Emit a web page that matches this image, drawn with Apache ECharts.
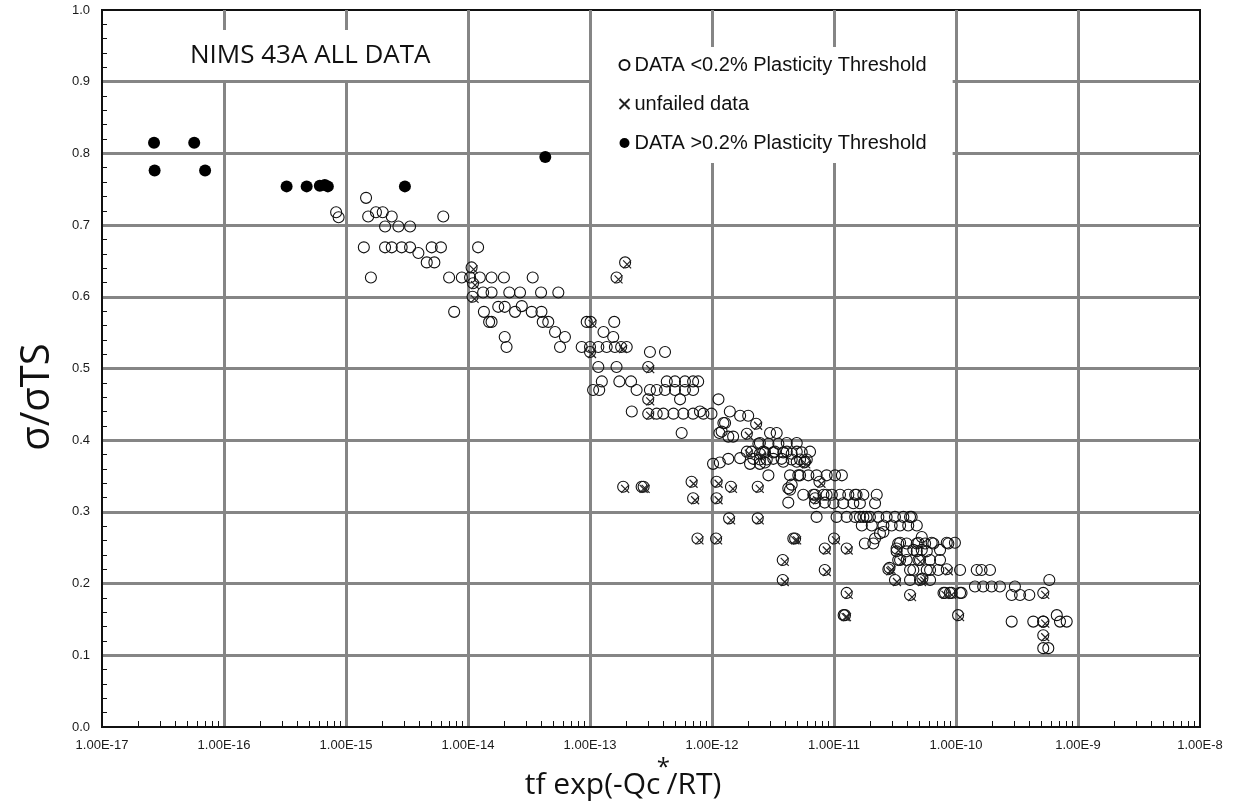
<!DOCTYPE html>
<html>
<head>
<meta charset="utf-8">
<title>NIMS 43A ALL DATA</title>
<script src="https://cdn.jsdelivr.net/npm/echarts@6/dist/echarts.min.js"></script>
<style>
    html, body { margin: 0; padding: 0; background: #fff; }
    #main { width: 1243px; height: 803px; }
</style>
</head>
<body>
<div id="main"></div>
<script>
    // [tf exp(-Qc*/RT), σ/σTS]
    var filledData = [
        [2.67e-17, 0.815], [2.7e-17, 0.776], [5.7e-17, 0.815], [7.0e-17, 0.776],
        [3.26e-16, 0.754], [4.76e-16, 0.754], [6.1e-16, 0.755], [6.7e-16, 0.756], [7.1e-16, 0.754],
        [3.04e-15, 0.754], [4.3e-14, 0.795]
    ];

    var openData = [
        [8.3e-16, 0.718], [8.7e-16, 0.711], [1.46e-15, 0.738], [1.4e-15, 0.669], [1.52e-15, 0.712],
        [1.6e-15, 0.627], [1.76e-15, 0.718], [2.0e-15, 0.718], [2.09e-15, 0.698], [2.09e-15, 0.669],
        [2.37e-15, 0.712], [2.37e-15, 0.669], [2.69e-15, 0.698], [2.86e-15, 0.669], [3.35e-15, 0.698],
        [3.35e-15, 0.669], [3.92e-15, 0.661], [4.59e-15, 0.648], [5.04e-15, 0.669], [5.3e-15, 0.648],
        [6.0e-15, 0.669], [6.27e-15, 0.712], [7.0e-15, 0.627], [7.7e-15, 0.579], [8.9e-15, 0.627],
        [1.04e-14, 0.627], [1.21e-14, 0.669], [1.25e-14, 0.627], [1.33e-14, 0.606], [1.35e-14, 0.579],
        [1.49e-14, 0.565], [1.56e-14, 0.627], [1.56e-14, 0.606], [1.56e-14, 0.565], [1.77e-14, 0.586],
        [1.97e-14, 0.627], [2.0e-14, 0.586], [2.0e-14, 0.544], [2.07e-14, 0.530], [2.18e-14, 0.606],
        [2.43e-14, 0.579], [2.67e-14, 0.606], [2.76e-14, 0.587], [3.33e-14, 0.579], [3.39e-14, 0.627],
        [3.97e-14, 0.606], [4.0e-14, 0.579], [4.1e-14, 0.565], [4.55e-14, 0.565], [5.17e-14, 0.551],
        [5.5e-14, 0.606], [5.68e-14, 0.530], [6.23e-14, 0.544], [8.55e-14, 0.530], [9.4e-14, 0.565],
        [1.0e-13, 0.530], [1.06e-13, 0.470], [1.17e-13, 0.530], [1.17e-13, 0.502], [1.19e-13, 0.470],
        [1.25e-13, 0.482], [1.29e-13, 0.551], [1.37e-13, 0.530], [1.55e-13, 0.544], [1.58e-13, 0.565],
        [1.6e-13, 0.530], [1.65e-13, 0.502], [1.74e-13, 0.482], [2.0e-13, 0.530], [2.17e-13, 0.482],
        [2.2e-13, 0.440], [2.41e-13, 0.470], [3.1e-13, 0.523], [3.1e-13, 0.470], [3.52e-13, 0.470],
        [3.52e-13, 0.437], [3.99e-13, 0.437], [4.12e-13, 0.523], [4.12e-13, 0.470], [4.26e-13, 0.482],
        [4.83e-13, 0.437], [4.97e-13, 0.482], [4.97e-13, 0.470], [5.47e-13, 0.457], [5.64e-13, 0.410],
        [5.82e-13, 0.437], [6.0e-13, 0.482], [6.0e-13, 0.470], [7.0e-13, 0.482], [7.0e-13, 0.470],
        [7.0e-13, 0.437], [7.7e-13, 0.482], [7.97e-13, 0.440], [8.5e-13, 0.437], [9.9e-13, 0.437],
        [1.02e-12, 0.367], [1.13e-12, 0.457], [1.15e-12, 0.410], [1.16e-12, 0.369], [1.2e-12, 0.412],
        [1.24e-12, 0.424], [1.28e-12, 0.424], [1.36e-12, 0.374], [1.36e-12, 0.405], [1.4e-12, 0.440],
        [1.49e-12, 0.405], [1.7e-12, 0.434], [1.7e-12, 0.375], [1.98e-12, 0.434], [2.05e-12, 0.367],
        [2.11e-12, 0.384], [2.18e-12, 0.374], [2.4e-12, 0.395], [2.47e-12, 0.396], [2.47e-12, 0.373],
        [2.47e-12, 0.367], [2.63e-12, 0.384], [2.72e-12, 0.369], [2.72e-12, 0.383], [2.81e-12, 0.373],
        [2.9e-12, 0.351], [2.9e-12, 0.395], [2.99e-12, 0.410], [3.18e-12, 0.374], [3.18e-12, 0.383],
        [3.28e-12, 0.384], [3.39e-12, 0.410], [3.5e-12, 0.395], [3.72e-12, 0.374], [3.84e-12, 0.383],
        [3.84e-12, 0.370], [4.1e-12, 0.396], [4.1e-12, 0.384], [4.22e-12, 0.313], [4.22e-12, 0.333],
        [4.36e-12, 0.351], [4.36e-12, 0.331], [4.5e-12, 0.381], [4.5e-12, 0.338], [4.5e-12, 0.373],
        [4.95e-12, 0.396], [4.95e-12, 0.384], [4.95e-12, 0.370], [5.1e-12, 0.351], [5.27e-12, 0.373],
        [5.27e-12, 0.351], [5.44e-12, 0.383], [5.6e-12, 0.324], [5.79e-12, 0.370], [5.98e-12, 0.373],
        [6.16e-12, 0.351], [6.36e-12, 0.384], [6.77e-12, 0.324], [6.98e-12, 0.324], [6.98e-12, 0.312],
        [7.2e-12, 0.351], [7.2e-12, 0.293], [8.2e-12, 0.324], [8.4e-12, 0.313], [8.7e-12, 0.351],
        [8.7e-12, 0.324], [9.6e-12, 0.324], [9.9e-12, 0.312], [1.02e-11, 0.351], [1.05e-11, 0.293],
        [1.12e-11, 0.324], [1.16e-11, 0.351], [1.19e-11, 0.312], [1.27e-11, 0.293], [1.31e-11, 0.324],
        [1.44e-11, 0.312], [1.49e-11, 0.324], [1.49e-11, 0.293], [1.53e-11, 0.324], [1.63e-11, 0.312],
        [1.63e-11, 0.293], [1.69e-11, 0.281], [1.74e-11, 0.324], [1.74e-11, 0.293], [1.79e-11, 0.256],
        [1.85e-11, 0.293], [1.97e-11, 0.293], [2.04e-11, 0.281], [2.1e-11, 0.256], [2.17e-11, 0.312],
        [2.17e-11, 0.263], [2.24e-11, 0.324], [2.31e-11, 0.293], [2.38e-11, 0.270], [2.54e-11, 0.281],
        [2.54e-11, 0.272], [2.7e-11, 0.293], [2.97e-11, 0.281], [3.16e-11, 0.293], [3.26e-11, 0.245],
        [3.36e-11, 0.256], [3.36e-11, 0.233], [3.48e-11, 0.281], [3.48e-11, 0.257], [3.7e-11, 0.293],
        [3.94e-11, 0.256], [3.94e-11, 0.245], [3.94e-11, 0.233], [4.06e-11, 0.281], [4.2e-11, 0.293],
        [4.2e-11, 0.219], [4.2e-11, 0.205], [4.33e-11, 0.293], [4.47e-11, 0.219], [4.47e-11, 0.247],
        [4.77e-11, 0.281], [4.77e-11, 0.256], [4.77e-11, 0.245], [4.92e-11, 0.257], [5.07e-11, 0.233],
        [5.24e-11, 0.265], [5.24e-11, 0.247], [5.58e-11, 0.256], [5.76e-11, 0.219], [5.76e-11, 0.245],
        [6.13e-11, 0.233], [6.13e-11, 0.219], [6.13e-11, 0.205], [6.32e-11, 0.257], [6.52e-11, 0.256],
        [7.16e-11, 0.219], [7.4e-11, 0.247], [7.4e-11, 0.233], [8.12e-11, 0.187], [8.4e-11, 0.257],
        [8.65e-11, 0.256], [9.2e-11, 0.187], [9.8e-11, 0.257], [1.08e-10, 0.219], [1.08e-10, 0.187],
        [1.11e-10, 0.187], [1.43e-10, 0.196], [1.48e-10, 0.219], [1.62e-10, 0.219], [1.67e-10, 0.196],
        [1.9e-10, 0.219], [1.96e-10, 0.196], [2.29e-10, 0.196], [2.86e-10, 0.184], [2.86e-10, 0.147],
        [3.04e-10, 0.196], [3.35e-10, 0.184], [3.99e-10, 0.184], [4.3e-10, 0.147], [5.19e-10, 0.147],
        [5.19e-10, 0.110], [5.71e-10, 0.110], [5.82e-10, 0.205], [6.7e-10, 0.156], [7.12e-10, 0.147],
        [8.08e-10, 0.147]
    ];

    var unfailedData = [
        [1.07e-14, 0.641], [1.1e-14, 0.619], [1.09e-14, 0.600], [1.65e-13, 0.627], [1.94e-13, 0.648],
        [1.01e-13, 0.565], [1.0e-13, 0.523], [1.8e-13, 0.530], [3.0e-13, 0.502], [3.0e-13, 0.457],
        [3.0e-13, 0.437], [1.87e-13, 0.335], [2.65e-13, 0.335], [2.75e-13, 0.335], [6.8e-13, 0.342],
        [7.0e-13, 0.319], [1.09e-12, 0.342], [1.09e-12, 0.319], [1.43e-12, 0.335], [2.37e-12, 0.335],
        [1.38e-12, 0.291], [2.37e-12, 0.291], [7.6e-13, 0.263], [1.08e-12, 0.263], [1.93e-12, 0.409],
        [2.3e-12, 0.423], [1.93e-12, 0.384], [2.47e-12, 0.381], [5.7e-12, 0.369], [7.0e-12, 0.319],
        [7.6e-12, 0.342], [3.8e-12, 0.233], [3.8e-12, 0.205], [4.64e-12, 0.263], [4.8e-12, 0.263],
        [8.4e-12, 0.249], [8.4e-12, 0.219], [1.0e-11, 0.263], [1.27e-11, 0.249], [1.27e-11, 0.187],
        [1.2e-11, 0.156], [1.23e-11, 0.156], [2.79e-11, 0.220], [2.85e-11, 0.222], [3.16e-11, 0.205],
        [5.07e-11, 0.205], [5.3e-11, 0.207], [4.2e-11, 0.184], [7.9e-11, 0.187], [8.9e-11, 0.187],
        [1.04e-10, 0.156], [8.4e-11, 0.220], [3.26e-11, 0.249], [3.48e-11, 0.233], [4.92e-11, 0.233],
        [5.19e-10, 0.187], [5.19e-10, 0.147], [5.19e-10, 0.128]
    ];

    var xMin = 1e-17, xMax = 1e-8;
    var seriesNames = ['DATA <0.2% Plasticity Threshold', 'unfailed data', 'DATA >0.2% Plasticity Threshold'];

    // log-spaced minor ticks (2..9 in every decade)
    var minorTicks = [];
    for (var e = -17; e < -8; e++) {
        for (var m = 2; m <= 9; m++) {
            minorTicks.push(m * Math.pow(10, e));
        }
    }

    var myChart = echarts.init(document.getElementById('main'));

    var option = {
        animation: false,
        backgroundColor: '#fff',
        title: {
            text: 'NIMS 43A ALL DATA',
            left: 170,
            top: 30,
            padding: [13, 20, 11, 20],
            backgroundColor: '#fff',
            textStyle: {
                fontFamily: 'Open Sans',
                fontSize: 26,
                fontWeight: 'normal',
                color: '#111',
                lineHeight: 26
            }
        },
        legend: {
            orient: 'vertical',
            left: 592,
            top: 47,
            padding: [8, 26, 10, 25],
            itemGap: 19,
            itemWidth: 10,
            itemHeight: 10,
            backgroundColor: '#fff',
            data: seriesNames,
            textStyle: {
                fontFamily: 'Liberation Sans',
                fontSize: 20,
                color: '#111',
                lineHeight: 20
            }
        },
        grid: {
            left: 102,
            right: 43,
            top: 10,
            bottom: 76,
            show: true,
            borderColor: '#111',
            borderWidth: 2,
            backgroundColor: '#fff'
        },
        xAxis: [{
            type: 'log',
            logBase: 10,
            min: xMin,
            max: xMax,
            splitNumber: 9,
            axisLine: { lineStyle: { color: '#111', width: 2 } },
            axisTick: { show: false },
            axisLabel: {
                margin: 12,
                fontFamily: 'Liberation Sans',
                fontSize: 13,
                color: '#1a1a1a',
                formatter: function (v) {
                    return Number(v).toExponential(2).toUpperCase();
                }
            },
            splitLine: {
                show: true,
                showMinLine: false,
                showMaxLine: false,
                lineStyle: { color: '#858585', width: 3 }
            }
        }, {
            type: 'log',
            logBase: 10,
            min: xMin,
            max: xMax,
            position: 'bottom',
            axisLine: { show: false },
            axisLabel: { show: false },
            splitLine: { show: false },
            axisTick: {
                show: true,
                inside: true,
                length: 6,
                customValues: minorTicks,
                lineStyle: { color: '#111', width: 1 }
            }
        }],
        yAxis: {
            type: 'value',
            min: 0,
            max: 1,
            interval: 0.1,
            axisLine: { show: true, lineStyle: { color: '#111', width: 2 } },
            axisTick: { show: false, inside: true },
            minorTick: {
                show: true,
                splitNumber: 5,
                length: 5,
                lineStyle: { color: '#111', width: 1 }
            },
            axisLabel: {
                margin: 12,
                fontFamily: 'Liberation Sans',
                fontSize: 13,
                color: '#1a1a1a',
                formatter: function (v) {
                    return v.toFixed(1);
                }
            },
            splitLine: {
                show: true,
                showMinLine: false,
                showMaxLine: false,
                lineStyle: { color: '#858585', width: 3 }
            }
        },
        graphic: [{
            type: 'text',
            x: 38,
            y: 397,
            rotation: Math.PI / 2,
            style: {
                text: 'σ/σTS',
                fontFamily: 'Open Sans',
                fontSize: 40,
                fill: '#111',
                align: 'center',
                verticalAlign: 'middle'
            }
        }, {
            type: 'text',
            x: 623,
            y: 778,
            style: {
                text: '{a|tf exp(-Qc}{s|*}{a|/RT)}',
                align: 'center',
                verticalAlign: 'middle',
                fill: '#111',
                rich: {
                    a: { fontFamily: 'Open Sans', fontSize: 30, lineHeight: 44, verticalAlign: 'bottom', fill: '#111' },
                    s: { fontFamily: 'Open Sans', fontSize: 24, lineHeight: 24, width: 6, verticalAlign: 'top', fill: '#111' }
                }
            }
        }],
        series: [{
            name: seriesNames[0],
            type: 'scatter',
            symbol: 'circle',
            symbolSize: 11,
            itemStyle: { color: 'rgba(0,0,0,0)', borderColor: '#111', borderWidth: 1.1, opacity: 1 },
            data: openData.concat(unfailedData)
        }, {
            name: seriesNames[1],
            type: 'scatter',
            symbol: 'path://M0,0L10,10M10,0L0,10',
            symbolSize: 8,
            symbolOffset: [2, 2],
            itemStyle: { color: 'none', borderColor: '#222', borderWidth: 1.2, opacity: 1 },
            data: unfailedData
        }, {
            name: seriesNames[2],
            type: 'scatter',
            symbol: 'circle',
            symbolSize: 12,
            itemStyle: { color: '#000', opacity: 1 },
            data: filledData
        }]
    };
    myChart.setOption(option);
</script>
</body>
</html>
